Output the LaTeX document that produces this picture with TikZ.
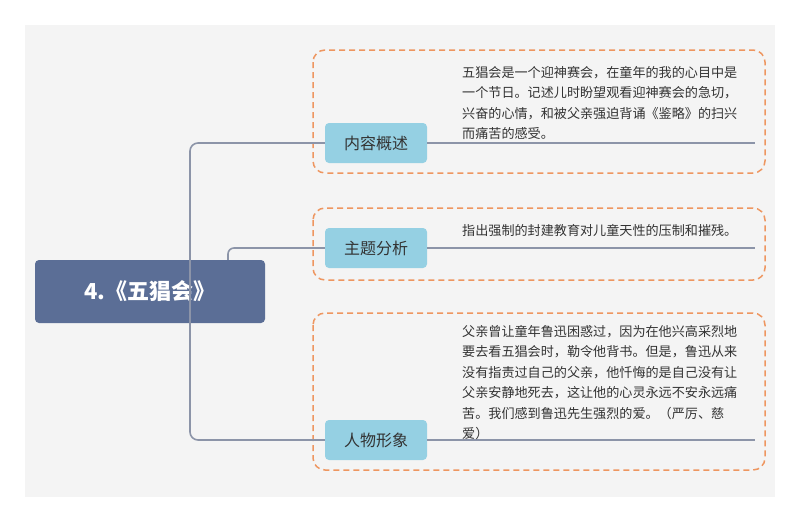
\documentclass[tikz,border=0pt]{standalone}
\usepackage{fontspec}
\setmainfont{Noto Sans CJK SC}
\begin{document}
\begin{tikzpicture}[x=1pt,y=-1pt,
  conn/.style={draw=lineg,line width=1.6pt},
  branch/.style={fill=branchc,rounded corners=4pt,minimum width=102pt,minimum height=40pt,font=\fontsize{16}{18}\selectfont,text=black!80,inner sep=0pt},
  dbox/.style={draw=orangec,dashed,line width=1.5pt,rounded corners=12pt,dash pattern=on 6pt off 4pt},
  desc/.style={anchor=north west,align=left,inner sep=0pt,font=\fontsize{13.1}{20.5}\selectfont,text=black!80}]
\definecolor{lineg}{HTML}{8C94A8}
\definecolor{branchc}{HTML}{95D0E3}
\definecolor{orangec}{HTML}{EE9660}
\definecolor{centerc}{HTML}{5B6E96}
\definecolor{bgc}{HTML}{F4F4F4}
\useasboundingbox (0,0) rectangle (800,523);
\fill[white] (0,0) rectangle (800,523);
\fill[bgc] (25,25) rectangle (775,497);
% dashed boxes
\draw[dbox] (313,50) rectangle (765,173);
\draw[dbox] (313,208) rectangle (765,280);
\draw[dbox] (313,313) rectangle (765,470);
% center
\node[fill=centerc,rounded corners=4pt,minimum width=230pt,minimum height=63pt,text=white,font=\fontsize{22}{26}\selectfont\bfseries] (c) at (150,291.5) {4.《五猖会》};
% branches
\node[branch] (b1) at (376,143) {内容概述};
\node[branch] (b2) at (376,248) {主题分析};
\node[branch] (b3) at (376,440) {人物形象};
\coordinate (j) at (190,260);
\coordinate (e1) at (755,143);
\coordinate (e2) at (755,248);
\coordinate (e3) at (755,440);
\draw[conn,rounded corners=8pt] (j) |- (b1.west);
\draw[conn,rounded corners=8pt] (j) |- (b3.west);
\draw[conn,rounded corners=6pt] (c.north east -| 228,260) |- (b2.west);
\draw[conn] (b1.east) -- (e1);
\draw[conn] (b2.east) -- (e2);
\draw[conn] (b3.east) -- (e3);
% texts
\node[desc] (t1) at (462,66) {五猖会是一个迎神赛会，在童年的我的心目中是\\一个节日。记述儿时盼望观看迎神赛会的急切，\\兴奋的心情，和被父亲强迫背诵《鉴略》的扫兴\\而痛苦的感受。};
\node[desc] (t2) at (462,224) {指出强制的封建教育对儿童天性的压制和摧残。};
\node[desc] (t3) at (462,325) {父亲曾让童年鲁迅困惑过，因为在他兴高采烈地\\要去看五猖会时，勒令他背书。但是，鲁迅从来\\没有指责过自己的父亲，他忏悔的是自己没有让\\父亲安静地死去，这让他的心灵永远不安永远痛\\苦。我们感到鲁迅先生强烈的爱。（严厉、慈\\爱）};
\end{tikzpicture}
\end{document}
